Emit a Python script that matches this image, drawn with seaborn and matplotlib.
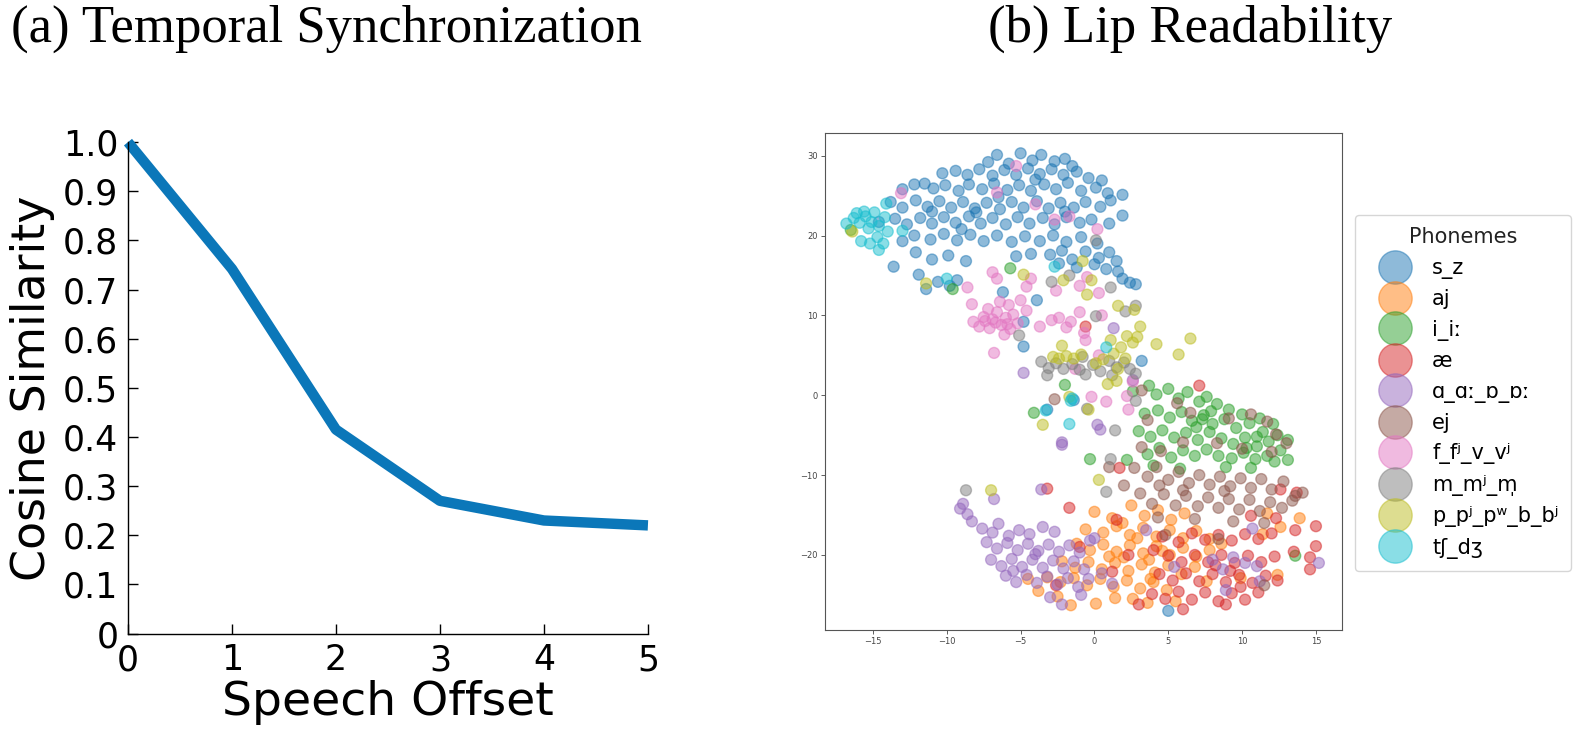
import seaborn as sns
import matplotlib.pyplot as plt
from matplotlib.lines import Line2D
import pandas as pd

# (a) cosine similarity vs speech offset
offsets = [0, 1, 2, 3, 4, 5]
similarity = [1.0, 0.742, 0.415, 0.270, 0.230, 0.220]
y_ticks = [0, 0.1, 0.2, 0.3, 0.4, 0.5, 0.6, 0.7, 0.8, 0.9, 1.0]
y_tick_labels = ["0", "0.1", "0.2", "0.3", "0.4", "0.5", "0.6", "0.7", "0.8", "0.9", "1.0"]

# (b) t-SNE of lip features, points per phoneme class
phonemes = ["s_z", "aj", "i_iː", "æ", "ɑ_ɑː_ɒ_ɒː", "ej", "f_fʲ_v_vʲ", "m_mʲ_m̩", "p_pʲ_pʷ_b_bʲ", "tʃ_dʒ"]

pts_sz = [(-7.2, 29.2), (-6.6, 30.1), (-5.8, 29.0), (-5.0, 30.3), (-4.2, 29.4), (-3.6, 30.1), (-2.7, 29.3),
          (-2.0, 29.6), (-1.5, 28.7), (-10.3, 27.8), (-9.4, 28.1), (-8.6, 27.6), (-7.8, 28.3), (-6.9, 27.5),
          (-6.1, 28.2), (-5.3, 27.6), (-4.5, 28.4), (-3.7, 27.7), (-2.9, 28.3), (-2.1, 27.6), (-1.2, 28.0),
          (-0.4, 27.2), (0.5, 26.9), (-13.0, 25.8), (-12.2, 26.4), (-11.5, 26.5), (-10.9, 25.9), (-10.1, 26.3),
          (-9.2, 25.6), (-8.5, 26.4), (-7.6, 25.8), (-6.8, 26.5), (-5.9, 25.7), (-5.1, 26.3), (-4.3, 25.6),
          (-3.4, 26.4), (-2.6, 25.8), (-1.8, 26.6), (-0.9, 25.6), (0.1, 26.0), (0.9, 25.3), (1.9, 25.1),
          (-13.8, 24.2), (-13.0, 23.5), (-12.1, 24.4), (-11.3, 23.6), (-10.5, 24.3), (-9.7, 23.5), (-8.9, 24.2),
          (-8.1, 23.4), (-7.3, 24.1), (-6.4, 23.3), (-5.6, 24.2), (-4.8, 23.5), (-3.9, 24.3), (-3.1, 23.4),
          (-2.3, 24.1), (-1.4, 23.5), (-0.6, 24.2), (0.4, 23.6), (1.1, 24.4), (-14.6, 21.7), (-13.5, 22.1),
          (-12.7, 21.4), (-11.8, 22.2), (-11.0, 21.5), (-10.2, 22.3), (-9.4, 21.6), (-8.5, 22.4), (-7.7, 21.5),
          (-6.9, 22.2), (-6.0, 21.4), (-5.2, 22.3), (-4.4, 21.5), (-3.5, 22.2), (-2.7, 21.4), (-1.9, 22.3),
          (-1.0, 21.6), (-0.2, 22.0), (1.0, 21.5), (1.9, 22.5), (-13.0, 19.3), (-12.2, 20.0), (-11.1, 19.5),
          (-10.2, 20.2), (-9.3, 19.4), (-8.4, 20.1), (-7.5, 19.3), (-6.6, 20.0), (-5.6, 19.2), (-4.7, 19.9),
          (-3.7, 19.3), (-2.8, 20.0), (-1.9, 19.2), (-0.9, 19.8), (0.2, 19.0), (-12.1, 17.9), (-11.0, 17.0),
          (-9.9, 17.5), (-8.7, 16.8), (-5.3, 17.4), (-4.3, 17.7), (-3.0, 17.6), (-2.2, 18.1), (-1.5, 17.0),
          (-0.6, 18.0), (0.3, 17.2), (1.0, 17.9), (1.5, 16.8), (-1.2, 16.0), (0.0, 16.4), (0.8, 15.8),
          (1.6, 15.5), (-2.4, 16.5), (-13.6, 16.1), (-11.9, 15.1), (-11.4, 13.3), (-10.6, 14.2), (-9.3, 14.4),
          (-9.8, 13.7), (2.4, 14.1), (2.8, 13.9), (1.9, 14.6), (-6.2, 12.9), (-4.8, 9.2), (-4.8, 6.1),
          (-3.9, 11.9), (3.2, 4.3), (-1.4, -0.6), (-3.2, -1.8), (5.0, -27.0),
          (-8.0, 22.9), (-6.5, 24.8), (-9.0, 20.8), (-4.0, 27.0), (-2.0, 23.0), (-11.0, 23.0)]

pts_aj = [(0.0, -14.6), (1.2, -15.4), (2.5, -13.8), (3.4, -15.1), (4.3, -14.4), (5.2, -15.6), (6.1, -14.8),
          (-0.6, -16.8), (0.6, -17.2), (1.5, -16.4), (2.4, -17.5), (3.3, -16.6), (4.2, -17.7), (5.1, -16.9),
          (6.0, -17.9), (6.9, -17.0), (7.8, -18.0), (-1.2, -18.6), (-0.3, -19.4), (0.6, -18.7), (1.5, -19.6),
          (2.4, -18.8), (3.3, -19.8), (4.2, -18.9), (5.1, -20.0), (6.0, -19.1), (6.9, -20.2), (7.8, -19.4),
          (8.6, -18.6), (-2.2, -20.8), (-1.3, -21.6), (-0.4, -20.9), (0.5, -21.8), (1.4, -21.0), (2.3, -22.0),
          (3.2, -21.2), (4.1, -22.2), (5.0, -21.3), (5.9, -22.4), (6.8, -21.5), (-3.2, -22.8), (-2.3, -23.4),
          (-1.4, -22.9), (-0.5, -23.8), (0.4, -23.0), (1.3, -24.0), (2.2, -23.2), (3.1, -24.2), (4.0, -23.4),
          (4.9, -24.4), (-4.5, -23.0), (-3.8, -24.5), (-2.5, -25.2), (-1.6, -26.3), (0.1, -26.1), (1.4, -25.4),
          (2.6, -25.5), (3.6, -26.0), (5.5, -25.8), (7.6, -23.3), (9.9, -22.9), (12.4, -22.5), (12.6, -16.5),
          (13.9, -15.4), (11.7, -14.8), (11.4, -17.4), (2.0, -20.3), (3.7, -20.6), (1.0, -20.2), (2.9, -17.9),
          (4.6, -19.5), (1.9, -16.0), (3.8, -23.0)]

pts_i = [(3.7, 1.2), (4.2, 0.1), (5.0, 0.8), (5.7, -0.4), (6.3, 0.4), (7.1, -0.8), (7.6, -0.2), (8.3, -1.1),
         (9.1, -1.8), (10.0, -2.4), (11.2, -2.9), (12.1, -3.6), (3.4, -2.3), (4.3, -1.9), (5.1, -2.8),
         (5.9, -2.1), (6.6, -3.2), (7.4, -2.5), (8.0, -3.6), (8.8, -3.0), (9.6, -4.1), (10.5, -3.5),
         (11.4, -4.6), (12.4, -5.0), (13.1, -5.6), (3.0, -4.5), (3.8, -5.2), (4.6, -4.4), (5.4, -5.3),
         (6.2, -4.7), (7.0, -5.6), (7.8, -4.6), (8.6, -5.4), (9.4, -6.1), (10.2, -5.3), (11.0, -6.4),
         (11.8, -5.8), (12.6, -6.9), (3.6, -7.4), (4.4, -6.6), (5.2, -7.8), (6.0, -6.9), (6.8, -7.6),
         (7.6, -6.8), (8.4, -7.6), (9.3, -7.9), (10.1, -7.2), (10.9, -8.0), (11.7, -7.6), (12.2, -8.3),
         (13.1, -8.1), (4.0, -8.8), (5.8, -9.2), (8.9, -9.0), (10.6, -9.1), (2.6, 0.5), (2.2, -8.1),
         (-4.1, -2.2), (-0.3, -8.0), (-5.7, 15.9), (-9.6, 13.3), (13.6, -20.1), (-16.5, 20.7), (-2.0, 1.3),
         (7.3, -3.0), (7.9, -2.0), (11.0, -5.2), (6.9, -4.0), (10.3, -6.6)]

pts_ae = [(4.6, -17.7), (5.7, -18.4), (6.6, -17.3), (7.5, -18.1), (8.4, -17.5), (9.3, -18.2), (10.2, -17.4),
          (11.1, -18.0), (12.0, -17.3), (13.6, -16.9), (15.0, -16.4), (12.3, -15.4), (10.6, -15.1),
          (5.0, -20.1), (5.9, -20.9), (6.8, -20.0), (7.7, -20.9), (8.6, -20.0), (9.5, -21.0), (10.4, -20.1),
          (11.3, -20.9), (12.2, -20.2), (13.5, -19.6), (14.6, -20.3), (15.0, -18.9), (4.4, -22.4),
          (5.3, -23.2), (6.2, -22.3), (7.1, -23.3), (8.0, -22.4), (8.9, -23.4), (9.8, -22.5), (10.7, -23.5),
          (11.6, -22.6), (12.4, -23.2), (3.9, -24.9), (4.8, -25.5), (5.7, -24.6), (6.6, -25.6), (7.5, -24.7),
          (8.4, -25.8), (9.3, -24.8), (10.2, -25.6), (11.1, -24.7), (3.0, -26.2), (6.0, -26.8), (8.9, -26.2),
          (14.6, -21.8), (1.2, -22.1), (2.3, -20.0), (4.0, -19.4), (1.5, -15.6), (-1.7, -14.1), (-3.2, -11.7),
          (1.7, -9.1), (7.1, 1.2), (-0.6, 8.6), (13.7, -12.2), (12.6, -11.8), (-2.6, -23.8), (-1.0, -19.0),
          (9.2, -22.0), (9.9, -24.0), (8.2, -21.3)]

pts_a = [(-9.1, -14.2), (-8.6, -14.9), (-8.3, -15.8), (-7.6, -16.7), (-6.9, -17.2), (-6.5, -16.1), (-5.8, -17.6),
         (-5.1, -16.9), (-4.4, -17.4), (-3.5, -16.5), (-2.7, -17.1), (-7.3, -18.4), (-6.6, -19.2), (-5.9, -18.5),
         (-5.2, -19.4), (-4.5, -18.6), (-3.8, -19.5), (-3.1, -18.7), (-2.4, -19.6), (-1.7, -18.8), (-1.0, -19.7),
         (-0.3, -18.2), (-7.0, -20.6), (-6.3, -21.4), (-5.6, -20.5), (-4.9, -21.5), (-4.2, -20.6), (-3.5, -21.6),
         (-2.8, -20.7), (-2.1, -21.7), (-1.4, -20.8), (-0.7, -21.8), (-6.0, -22.6), (-5.3, -23.4), (-4.6, -22.5),
         (-3.9, -23.5), (-3.2, -22.7), (-2.5, -23.7), (-1.8, -22.9), (-1.1, -24.0), (-0.4, -23.0), (0.5, -22.3),
         (1.2, -23.6), (-3.0, -25.3), (-2.2, -26.2), (-0.9, -25.0), (-8.9, -13.6), (-6.8, -13.0), (-3.6, -11.8),
         (-4.8, 2.8), (-2.2, -5.9), (-2.2, -6.2), (1.3, 8.4), (2.6, 1.9), (0.2, -3.7), (0.4, -4.3),
         (8.0, -20.6), (8.7, -21.8), (9.4, -20.3), (10.2, -21.0), (11.0, -21.4), (10.7, -16.7), (11.2, -23.3),
         (8.9, -24.4), (15.2, -21.0), (3.5, -16.9), (5.4, -21.5), (0.0, -17.9), (-4.0, -19.9), (-5.5, -22.0)]

pts_ej = [(3.6, -3.1), (5.6, -1.0), (6.5, -2.2), (9.1, -2.9), (10.6, -2.4), (11.7, -3.3), (12.3, -4.9),
          (3.2, -6.5), (4.5, -7.0), (6.0, -5.9), (8.3, -6.0), (10.0, -6.7), (12.0, -7.1), (13.0, -6.0),
          (2.7, -9.1), (3.6, -10.2), (4.2, -9.0), (5.0, -10.6), (5.7, -9.6), (6.4, -11.0), (7.1, -10.0),
          (7.8, -11.2), (8.5, -10.2), (9.2, -11.4), (9.9, -10.4), (10.6, -11.6), (11.3, -10.5), (12.0, -11.8),
          (12.8, -10.8), (3.1, -12.3), (3.9, -13.6), (4.7, -12.4), (5.5, -13.8), (6.2, -12.6), (7.0, -13.9),
          (7.7, -12.8), (8.4, -14.1), (9.1, -13.0), (9.8, -14.3), (10.5, -13.1), (11.2, -14.5), (11.9, -13.4),
          (12.7, -14.1), (13.4, -13.2), (14.1, -12.2), (13.6, -12.6), (4.3, -15.3), (6.8, -15.5), (9.4, -15.8),
          (11.5, -16.0), (4.8, -17.5), (8.4, -18.0), (-2.7, -0.5), (3.2, 0.6), (11.5, -23.8), (1.0, -9.0),
          (2.0, -11.3), (6.0, -11.9), (8.8, -12.0), (4.4, -11.3)]

pts_f = [(-8.2, 9.2), (-7.8, 8.6), (-7.5, 9.8), (-7.1, 8.4), (-6.9, 9.5), (-6.6, 10.4), (-6.3, 8.8), (-6.0, 9.7),
         (-5.7, 8.3), (-5.5, 10.1), (-5.2, 9.0), (-6.1, 7.6), (-7.2, 10.8), (-5.8, 11.3), (-5.0, 11.9),
         (-6.4, 11.7), (-4.6, 10.6), (-6.8, 5.3), (-8.3, 11.4), (-8.6, 13.5), (-6.9, 15.4), (-6.6, 14.6),
         (-4.3, 14.6), (-4.6, 13.6), (-3.7, 8.6), (-2.9, 9.4), (-2.4, 9.7), (-1.6, 9.2), (-1.0, 10.4),
         (-1.9, 8.5), (-0.6, 6.9), (-0.7, 7.8), (0.3, 5.0), (-1.3, 3.3), (-0.2, -0.2), (0.8, -0.8),
         (2.2, -0.1), (2.3, -1.8), (2.6, 1.7), (0.3, 12.8), (-2.6, 13.1), (-13.1, 25.3), (-6.6, 25.4),
         (-5.3, 28.7), (-4.0, 23.9), (-2.7, 22.0), (-1.7, 22.4), (0.2, 20.8), (-0.5, 14.8), (-1.0, 13.7),
         (0.5, 10.0), (-6.7, 9.1), (-7.4, 9.3), (-5.9, 8.9)]

pts_m = [(-3.6, 4.2), (-3.1, 3.4), (-2.6, 4.0), (-2.1, 3.3), (-1.5, 3.9), (-1.0, 3.2), (-0.6, 2.6), (-0.1, 3.8),
         (0.4, 3.0), (1.0, 4.3), (1.5, 3.5), (2.0, 4.1), (2.4, 3.3), (1.2, 2.5), (-0.8, 4.8), (-3.2, 2.5),
         (2.8, 2.7), (0.1, 19.4), (1.1, 13.5), (-2.9, 14.2), (2.8, 11.2), (2.1, 10.5), (0.1, 9.9), (-5.1, 7.5),
         (2.8, -0.7), (1.4, -4.4), (1.1, -8.0), (0.8, -12.1), (-8.7, -11.9), (-1.7, 15.0), (-0.5, -1.7)]

pts_p = [(-2.8, 4.8), (-2.4, 4.6), (-1.9, 4.9), (-1.4, 4.6), (-2.2, 6.2), (-0.9, 5.1), (0.6, 4.5), (1.1, 6.9),
         (1.3, 5.2), (1.8, 6.0), (2.2, 7.4), (2.6, 6.6), (2.1, 4.6), (1.6, 3.3), (0.9, 1.4), (1.5, 1.8),
         (2.9, 7.3), (3.1, 8.6), (4.2, 6.4), (6.5, 7.1), (5.7, 5.1), (1.6, 11.2), (2.7, 10.7), (-0.4, -1.8),
         (-3.5, -3.7), (-4.8, 15.1), (-2.1, 14.4), (-0.8, 16.8), (-11.4, 14.0), (0.3, -10.6), (-7.0, -11.9),
         (-16.4, 20.5), (-0.5, 12.6), (-0.2, 14.4), (0.1, 4.0), (-1.7, -0.2)]

pts_tsh = [(-16.8, 21.5), (-16.3, 22.2), (-15.9, 21.6), (-15.5, 22.4), (-15.1, 21.7), (-15.6, 23.0), (-14.9, 22.9),
           (-16.1, 22.8), (-14.6, 21.2), (-14.2, 22.3), (-15.3, 20.9), (-15.8, 19.3), (-15.2, 19.0), (-14.7, 19.8),
           (-14.3, 19.0), (-14.6, 18.2), (-14.0, 20.5), (-14.1, 24.0), (-10.0, 14.6), (-2.7, 16.1), (0.8, 6.0),
           (-1.6, -0.7), (-1.5, -0.4), (-1.7, -3.6), (-3.3, -1.9), (-13.0, 20.6)]

class_points = [pts_sz, pts_aj, pts_i, pts_ae, pts_a, pts_ej, pts_f, pts_m, pts_p, pts_tsh]

rows = []
for name, pts in zip(phonemes, class_points):
    for x, y in pts:
        rows.append({"x": x, "y": y, "Phonemes": name})
tsne = pd.DataFrame(rows)

sns.set_theme(style="white")
plt.rcParams["font.family"] = ["DejaVu Sans"]
plt.rcParams["text.color"] = "black"

fig = plt.figure(figsize=(15.78, 7.29), dpi=100)

# ---- left panel ----
ax1 = fig.add_axes([0.0811, 0.131, 0.3295, 0.674])
sns.lineplot(x=offsets, y=similarity, ax=ax1, color="#0b77b9", linewidth=7.5)
for ln in ax1.get_lines():
    ln.set_clip_on(False)
    ln.set_solid_capstyle("butt")
ax1.set_xlim(0, 5)
ax1.set_ylim(0, 1.0)
ax1.set_xticks(offsets)
ax1.set_yticks(y_ticks)
ax1.set_yticklabels(y_tick_labels)
ax1.tick_params(direction="in", length=7, width=1, labelsize=25, pad=7, color="black",
                labelcolor="black", left=True, bottom=True)
ax1.spines["top"].set_visible(False)
ax1.spines["right"].set_visible(False)
for s in ["left", "bottom"]:
    ax1.spines[s].set_color("black")
    ax1.spines[s].set_linewidth(1)
ax1.set_xlabel("Speech Offset", fontsize=34, labelpad=2, color="black")
ax1.set_ylabel("Cosine Similarity", fontsize=33, labelpad=6, color="black")

# ---- right panel ----
ax2 = fig.add_axes([0.5228, 0.1358, 0.3275, 0.6813])
palette = sns.color_palette("tab10", len(phonemes))
sns.scatterplot(data=tsne, x="x", y="y", hue="Phonemes", hue_order=phonemes, palette=palette,
                s=62, alpha=0.5, edgecolor="face", linewidth=1, legend=False, ax=ax2)
ax2.set_xlim(-18.25, 16.75)
ax2.set_ylim(-29.4, 32.8)
ax2.set_xticks([-15, -10, -5, 0, 5, 10, 15])
ax2.set_yticks([-20, -10, 0, 10, 20, 30])
ax2.set_xlabel("")
ax2.set_ylabel("")
ax2.tick_params(direction="out", length=3, width=0.6, labelsize=6, pad=2,
                colors="#444444", left=True, bottom=True)
for s in ax2.spines.values():
    s.set_color("#555555")
    s.set_linewidth(0.8)

handles = [Line2D([], [], linestyle="", marker="o", markersize=24, markerfacecolor=c,
                  markeredgecolor=c, markeredgewidth=1, alpha=0.5) for c in palette]
leg = ax2.legend(handles, phonemes, title="Phonemes", loc="upper left",
                 bbox_to_anchor=(0.8587, 0.7051), bbox_transform=fig.transFigure,
                 fontsize=15, title_fontsize=15, labelspacing=0.5, borderpad=0.6,
                 handlelength=2.6, handletextpad=0.5, frameon=True, borderaxespad=0)
leg.get_frame().set_edgecolor("#cccccc")
for t in leg.get_texts():
    t.set_color("black")
leg.get_title().set_color("#222222")

# panel titles
fig.text(0.207, 0.9424, "(a) Temporal Synchronization", ha="center", va="baseline", color="black",
         fontsize=38, family=["Liberation Serif", "DejaVu Serif"])
fig.text(0.754, 0.9424, "(b) Lip Readability", ha="center", va="baseline", color="black",
         fontsize=38, family=["Liberation Serif", "DejaVu Serif"])

fig.savefig("out.png", dpi=100)
